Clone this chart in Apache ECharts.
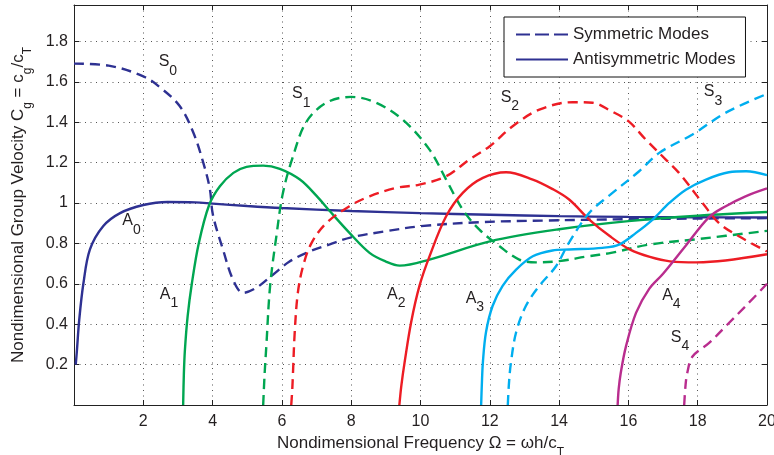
<!DOCTYPE html>
<html>
<head>
<meta charset="utf-8">
<script src="https://cdn.jsdelivr.net/npm/echarts@6/dist/echarts.min.js"></script>
<style>
  html, body { margin: 0; padding: 0; background: #fff; }
  #chart { width: 774px; height: 455px; }
</style>
</head>
<body>
<div id="chart"></div>
<script>
// Lamb-wave dispersion: group velocity vs. frequency, [Ω, Cg] pairs per mode
const modeA0 = [[0.05,0.2],[0.08,0.26],[0.15,0.42],[0.27,0.6],[0.46,0.77],[0.84,0.885],[1.33,0.95],[2,0.99],[2.7,1.005],[3.5,1.003],[4,0.997],[5,0.985],[6,0.975],[8,0.96],[10,0.95],[12,0.942],[14,0.935],[16,0.931],[18,0.929],[20,0.928]];
const modeS0 = [[0,1.69],[1,1.68],[2,1.627],[2.5,1.57],[3.05,1.48],[3.44,1.35],[3.73,1.2],[3.92,1.07],[4.01,0.94],[4.3,0.77],[4.59,0.62],[4.88,0.555],[5.26,0.58],[5.74,0.645],[6.22,0.71],[6.8,0.76],[7.38,0.795],[8,0.83],[9,0.86],[10,0.885],[11.7,0.905],[13.6,0.913],[16,0.92],[18,0.923],[20,0.925]];
const modeA1 = [[3.15,0],[3.17,0.15],[3.2,0.27],[3.28,0.44],[3.4,0.6],[3.6,0.8],[3.9,0.99],[4.21,1.083],[4.6,1.149],[4.98,1.179],[5.46,1.185],[5.94,1.169],[6.52,1.116],[7.0,1.035],[7.38,0.96],[7.95,0.852],[8.53,0.753],[9.0,0.71],[9.4,0.69],[10.26,0.72],[12,0.81],[14,0.87],[16,0.91],[18,0.937],[20,0.955]];
const modeS1 = [[5.46,0],[5.5,0.15],[5.55,0.29],[5.66,0.59],[5.84,0.835],[6.03,1.05],[6.32,1.23],[6.7,1.4],[7.28,1.496],[8,1.525],[8.72,1.496],[9.5,1.41],[10.26,1.264],[10.74,1.116],[11.22,0.967],[11.7,0.868],[12.28,0.786],[12.85,0.72],[13.33,0.706],[14,0.712],[14.8,0.735],[15.5,0.753],[16.6,0.794],[18.05,0.822],[20,0.862]];
const modeA2 = [[9.39,0],[9.45,0.1],[9.54,0.21],[9.73,0.41],[9.97,0.59],[10.26,0.736],[10.74,0.934],[11.22,1.05],[11.8,1.124],[12.47,1.152],[13.24,1.116],[13.8,1.07],[14.29,1.017],[14.87,0.918],[15.47,0.835],[16.05,0.769],[16.62,0.733],[17.2,0.711],[17.97,0.706],[18.8,0.715],[20,0.746]];
const modeS2 = [[6.27,0],[6.3,0.08],[6.32,0.16],[6.37,0.36],[6.46,0.555],[6.61,0.687],[6.85,0.8],[7.28,0.9],[7.95,0.984],[8.53,1.033],[9.3,1.075],[9.97,1.091],[10.74,1.132],[11.41,1.215],[12,1.281],[12.66,1.38],[13.43,1.462],[14.39,1.499],[14.97,1.496],[15.5,1.455],[16,1.405],[16.5,1.314],[17.08,1.215],[17.46,1.149],[18.14,1.0],[18.62,0.9],[19.19,0.835],[20,0.76]];
const modeA3 = [[11.75,0],[11.77,0.1],[11.8,0.21],[11.89,0.36],[12.08,0.49],[12.37,0.59],[12.76,0.67],[13.24,0.736],[13.81,0.765],[14.29,0.77],[15.25,0.778],[15.73,0.794],[16.22,0.852],[16.7,0.918],[17.18,1.0],[17.66,1.066],[18.24,1.116],[18.9,1.152],[19.4,1.157],[20,1.138]];
const modeS3 = [[12.52,0],[12.55,0.1],[12.61,0.21],[12.76,0.36],[13.04,0.49],[13.43,0.59],[13.91,0.687],[14.29,0.805],[14.87,0.951],[15.47,1.04],[16.31,1.157],[16.89,1.248],[17.85,1.339],[18.8,1.446],[20,1.54]];
const modeA4 = [[15.69,0],[15.72,0.08],[15.78,0.16],[15.93,0.29],[16.22,0.456],[16.6,0.575],[17.0,0.65],[17.66,0.79],[18.33,0.93],[18.81,0.984],[19.38,1.033],[20,1.072]];
const modeS4 = [[17.61,0],[17.65,0.1],[17.7,0.16],[17.85,0.24],[18.33,0.307],[18.81,0.39],[19.38,0.489],[20,0.6]];

// Mode name annotations: letter, subscript, Ω, Cg
const modeLabels = [
  ['S','0',2.71,1.655], ['S','1',6.56,1.496], ['S','2',12.58,1.477], ['S','3',18.44,1.506],
  ['A','0',1.66,0.866], ['A','1',2.74,0.502], ['A','2',9.3,0.502], ['A','3',11.57,0.482],
  ['A','4',17.24,0.499], ['S','4',17.49,0.289]
];

const legendNames = ['Symmetric Modes', 'Antisymmetric Modes'];

const NAVY = '#2E3192', GREEN = '#00A651', RED = '#ED1C24', CYAN = '#00AEEF', MAGENTA = '#B92D8E';
const DASH = [10, 6];
const FONT = '"Liberation Sans", Arial, Helvetica, sans-serif';
const TEXT = '#231F20';

function curve(data, color, dashed) {
  return {
    type: 'line', data: data, showSymbol: false, symbol: 'none',
    smooth: 0.35, silent: true, z: 3,
    lineStyle: { color: color, width: 2.4, type: dashed ? DASH : 'solid' }
  };
}

const gridLine = { show: true, lineStyle: { color: '#555', width: 1, type: [1, 4.5] } };
const axisLineStyle = { show: true, onZero: false, lineStyle: { color: '#222', width: 1 } };
const tickIn = { show: true, inside: true, length: 5, lineStyle: { color: '#222' } };

const subRich = {
  m: { fontSize: 17, lineHeight: 20, verticalAlign: 'top', color: TEXT, fontFamily: FONT },
  s: { fontSize: 12, lineHeight: 36, color: TEXT, fontFamily: FONT }
};

const chart = echarts.init(document.getElementById('chart'), null, { renderer: 'canvas' });
chart.setOption({
  animation: false,
  backgroundColor: '#fff',
  textStyle: { fontFamily: FONT },
  grid: { left: 74, right: 7, top: 5, bottom: 50, containLabel: false, outerBoundsMode: 'none' },
  legend: {
    data: [
      { name: legendNames[0], lineStyle: { type: [14, 5] } },
      { name: legendNames[1] }
    ],
    orient: 'vertical', left: 504, top: 17,
    padding: [9, 10, 9, 11], itemGap: 8, itemWidth: 52, itemHeight: 14,
    backgroundColor: '#fff', borderColor: '#111', borderWidth: 1,
    itemStyle: { opacity: 0 },
    textStyle: { fontSize: 17, color: TEXT, fontFamily: FONT },
    selectedMode: false
  },
  xAxis: [{
    type: 'value', min: 0, max: 20, interval: 2, position: 'bottom',
    name: '{m|Nondimensional Frequency Ω = ωh/c}{s|T}',
    nameLocation: 'middle', nameGap: 28,
    nameTextStyle: { rich: subRich },
    axisLine: axisLineStyle, axisTick: tickIn, splitLine: gridLine,
    axisLabel: { margin: 9, fontSize: 16, color: TEXT, fontFamily: FONT,
      formatter: v => (v === 0 ? '' : String(v)) }
  }, {
    type: 'value', min: 0, max: 20, interval: 2, position: 'top',
    axisLine: axisLineStyle, axisTick: tickIn, splitLine: { show: false },
    axisLabel: { show: false }
  }],
  yAxis: [{
    type: 'value', min: 0, max: 1.98, interval: 0.2, position: 'left',
    name: '{m|Nondimensional Group Velocity C}{s|g}{m| = c}{s|g}{m|/c}{s|T}',
    nameLocation: 'middle', nameGap: 28,
    nameTextStyle: { rich: subRich },
    axisLine: axisLineStyle, axisTick: tickIn, splitLine: gridLine,
    axisLabel: { margin: 6, fontSize: 16, color: TEXT, fontFamily: FONT,
      formatter: v => {
        const k = v * 5;
        if (v === 0 || Math.abs(k - Math.round(k)) > 1e-6) return '';
        return String(Math.round(v * 10) / 10);
      } }
  }, {
    type: 'value', min: 0, max: 1.98, interval: 0.2, position: 'right',
    axisLine: axisLineStyle, axisTick: tickIn, splitLine: { show: false },
    axisLabel: { show: false }
  }],
  series: [
    curve(modeA0, NAVY, false), curve(modeS0, NAVY, true),
    curve(modeA1, GREEN, false), curve(modeS1, GREEN, true),
    curve(modeA2, RED, false), curve(modeS2, RED, true),
    curve(modeA3, CYAN, false), curve(modeS3, CYAN, true),
    curve(modeA4, MAGENTA, false), curve(modeS4, MAGENTA, true),
    // legend entries
    { type: 'line', name: legendNames[0], data: [], symbol: 'none',
      lineStyle: { color: NAVY, width: 2.4, type: DASH }, itemStyle: { color: NAVY } },
    { type: 'line', name: legendNames[1], data: [], symbol: 'none',
      lineStyle: { color: NAVY, width: 2.4, type: 'solid' }, itemStyle: { color: NAVY } },
    // mode names
    {
      type: 'scatter', silent: true, symbolSize: 0, z: 5,
      itemStyle: { color: TEXT },
      data: modeLabels.map(l => ({ value: [l[2], l[3]], letter: l[0], sub: l[1] })),
      label: {
        show: true, position: 'inside', color: TEXT, textBorderWidth: 0, opacity: 1,
        formatter: p => '{m|' + p.data.letter + '}{s|' + p.data.sub + '}',
        rich: {
          m: { fontSize: 16, lineHeight: 18, verticalAlign: 'top', color: TEXT, fontFamily: FONT, textBorderWidth: 0 },
          s: { fontSize: 14, lineHeight: 34, color: TEXT, fontFamily: FONT, textBorderWidth: 0 }
        }
      }
    }
  ]
});
</script>
</body>
</html>
